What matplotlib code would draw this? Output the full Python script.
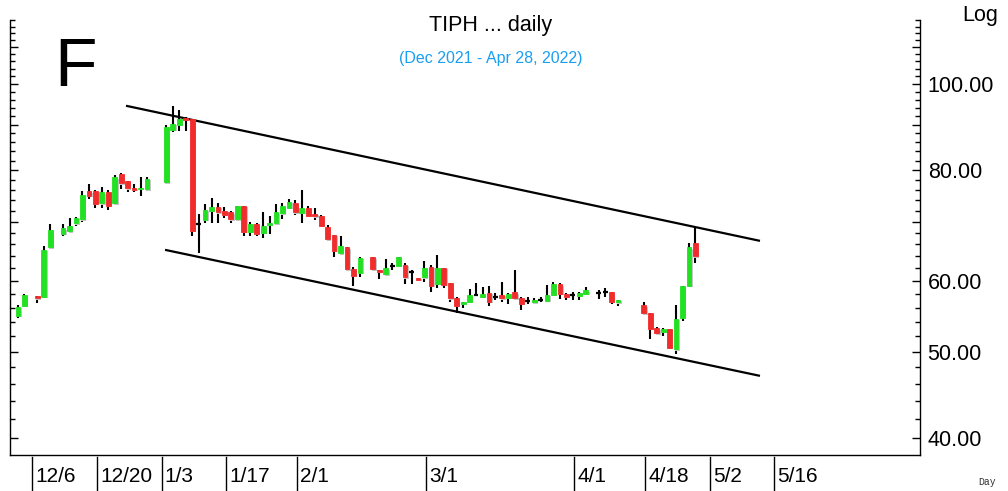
import numpy as np
import matplotlib
matplotlib.use("Agg")
import matplotlib.pyplot as plt
from matplotlib.patches import Rectangle
import matplotlib.patheffects as pe
from matplotlib.ticker import FixedLocator, FuncFormatter, NullFormatter
import matplotlib.transforms as mtransforms

plt.rcParams['font.family'] = ['Liberation Sans', 'DejaVu Sans']

# ---------------- data ----------------
dates = ['2021-12-01', '2021-12-02', '2021-12-06', '2021-12-07', '2021-12-08', '2021-12-10',
         '2021-12-13', '2021-12-14', '2021-12-15', '2021-12-16', '2021-12-17', '2021-12-20',
         '2021-12-21', '2021-12-22', '2021-12-23', '2021-12-24', '2021-12-27', '2021-12-28',
         '2021-12-29', '2022-01-03', '2022-01-04', '2022-01-05', '2022-01-06', '2022-01-07',
         '2022-01-10', '2022-01-11', '2022-01-12', '2022-01-13', '2022-01-14', '2022-01-17',
         '2022-01-18', '2022-01-19', '2022-01-20', '2022-01-21', '2022-01-24', '2022-01-25',
         '2022-01-26', '2022-01-27', '2022-01-28', '2022-01-31', '2022-02-01', '2022-02-02',
         '2022-02-03', '2022-02-04', '2022-02-07', '2022-02-08', '2022-02-09', '2022-02-10',
         '2022-02-11', '2022-02-14', '2022-02-16', '2022-02-17', '2022-02-18', '2022-02-21',
         '2022-02-22', '2022-02-23', '2022-02-24', '2022-02-25', '2022-02-28', '2022-03-01',
         '2022-03-02', '2022-03-03', '2022-03-04', '2022-03-07', '2022-03-08', '2022-03-09',
         '2022-03-10', '2022-03-11', '2022-03-14', '2022-03-15', '2022-03-16', '2022-03-17',
         '2022-03-18', '2022-03-21', '2022-03-22', '2022-03-23', '2022-03-24', '2022-03-25',
         '2022-03-28', '2022-03-29', '2022-03-30', '2022-03-31', '2022-04-01', '2022-04-04',
         '2022-04-06', '2022-04-07', '2022-04-08', '2022-04-11', '2022-04-15', '2022-04-18',
         '2022-04-19', '2022-04-20', '2022-04-21', '2022-04-22', '2022-04-25', '2022-04-26',
         '2022-04-27']

opens = [54.84, 56.27, 57.7, 57.6, 65.5, 67.8, 68.3, 69.7, 70.4, 75.7, 75.7, 73.4,
         75.5, 73.4, 79.2, 77.8, 76.4, 76.2, 76.1, 77.5, 88.8, 89.9, 91.6, 91.3,
         69.6, 70.3, 72.0, 72.7, 71.9, 71.7, 70.4, 72.9, 68.2, 69.5, 68.0, 69.4,
         69.7, 71.5, 72.5, 73.5, 71.6, 72.5, 71.4, 71.0, 69.1, 67.6, 64.5, 65.5,
         61.9, 61.3, 63.8, 61.8, 61.1, 62.4, 62.4, 62.6, 61.5, 60.5, 60.6, 62.3,
         59.6, 62.1, 59.7, 57.4, 56.6, 56.9, 57.9, 57.6, 58.2, 57.6, 57.9, 57.5,
         58.3, 57.5, 57.0, 56.8, 57.15, 57.0, 57.9, 59.5, 58.1, 57.9, 57.8, 58.1,
         58.2, 58.3, 58.3, 56.8, 56.35, 55.2, 53.1, 52.6, 53.0, 50.3, 54.6, 59.3,
         66.2]
highs = [56.42, 58.0, 57.7, 65.7, 69.5, 69.5, 70.6, 70.9, 75.7, 77.2, 76.0, 76.5,
         75.9, 79.0, 79.4, 77.8, 77.2, 78.5, 78.5, 89.8, 94.4, 93.5, 91.7, 91.3,
         71.4, 73.2, 74.5, 73.5, 72.7, 71.9, 72.9, 72.9, 70.0, 69.7, 71.7, 71.1,
         73.2, 73.5, 74.2, 74.1, 76.0, 72.8, 72.5, 71.3, 69.4, 67.6, 67.4, 65.5,
         62.3, 63.8, 63.8, 61.8, 63.5, 62.9, 63.8, 62.9, 61.8, 60.5, 63.2, 62.6,
         64.2, 62.1, 59.7, 57.6, 56.9, 58.8, 59.7, 59.1, 59.3, 58.2, 59.9, 58.2,
         61.7, 57.6, 57.6, 57.4, 57.55, 59.4, 59.9, 59.7, 58.2, 58.3, 58.3, 59.1,
         58.6, 58.9, 58.3, 57.15, 56.8, 55.3, 53.3, 53.1, 53.0, 56.4, 59.2, 66.3,
         69.0]
lows = [54.51, 56.2, 56.75, 57.55, 65.5, 67.4, 68.2, 69.2, 70.0, 74.2, 72.5, 72.5,
        72.2, 73.1, 76.1, 75.6, 75.5, 74.8, 76.0, 77.4, 88.4, 88.6, 88.6, 67.5,
        64.5, 69.7, 69.7, 69.8, 70.6, 69.7, 70.3, 67.4, 67.4, 67.4, 67.1, 67.8,
        69.4, 70.4, 72.3, 71.3, 69.8, 71.0, 70.3, 69.1, 66.5, 63.8, 64.4, 61.8,
        59.2, 60.7, 61.8, 60.3, 60.9, 61.7, 62.3, 59.6, 59.5, 60.0, 59.9, 58.4,
        59.0, 59.0, 56.9, 55.2, 55.9, 56.9, 57.7, 57.4, 56.3, 57.2, 56.9, 56.5,
        57.15, 55.7, 56.6, 56.6, 56.8, 56.9, 57.8, 57.3, 57.2, 57.15, 57.15, 57.9,
        57.3, 57.6, 56.6, 56.3, 55.0, 51.6, 52.2, 52.1, 50.4, 49.7, 54.1, 59.2,
        62.9]
closes = [56.17, 57.9, 57.4, 65.07, 68.5, 68.8, 69.3, 70.7, 75.0, 74.8, 73.3, 75.5,
          72.9, 78.5, 77.3, 76.3, 76.0, 76.45, 78.2, 89.4, 90.2, 91.3, 91.1, 68.4,
          69.6, 72.2, 72.7, 71.7, 71.3, 70.4, 72.8, 68.2, 69.5, 67.8, 69.3, 69.8,
          71.7, 72.8, 73.7, 71.7, 72.5, 71.1, 71.0, 69.2, 66.9, 64.9, 65.7, 61.9,
          60.8, 63.7, 61.9, 61.5, 62.0, 62.4, 63.8, 60.6, 61.5, 60.2, 62.1, 59.3,
          62.1, 59.4, 57.4, 56.3, 56.9, 57.9, 57.9, 58.0, 56.9, 57.6, 57.4, 58.1,
          57.4, 56.6, 57.0, 57.2, 57.15, 57.9, 59.5, 58.1, 57.6, 57.9, 58.2, 58.6,
          58.2, 58.3, 56.9, 57.15, 55.2, 53.0, 52.4, 53.0, 50.5, 54.4, 59.2, 65.5,
          64.0]

# trend channel endpoints (x in trading-slot units from 2021-12-06, price)
upper_x = [13.75, 112.0]
upper_y = [94.5, 66.6]
lower_x = [19.8, 112.0]
lower_y = [65.07, 46.95]

label_dates = ['2021-12-06', '2021-12-20', '2022-01-03', '2022-01-17', '2022-02-01',
               '2022-03-01', '2022-04-01', '2022-04-18', '2022-05-02', '2022-05-16']
label_texts = ['12/6', '12/20', '1/3', '1/17', '2/1', '3/1', '4/1', '4/18', '5/2', '5/16']

ytick_major = [40, 50, 60, 70, 80, 90, 100, 110]
ytick_labeled = [40, 50, 60, 80, 100]

# ---------------- drawing ----------------
BASE = '2021-12-06'
def slot(d):
    return float(np.busday_count(BASE, d)) if d >= BASE else -float(np.busday_count(d, BASE))

W, H = 1008, 491
fig = plt.figure(figsize=(W / 100, H / 100), dpi=100)
ax_left, ax_right, ax_top, ax_bot = 10, 920, 20, 455
ax = fig.add_axes([ax_left / W, (H - ax_bot) / H, (ax_right - ax_left) / W, (ax_bot - ax_top) / H])
ax.set_yscale('log')
ax.set_ylim(38.25, 118.0)
ax.set_xlim(-4.23, 136.8)

GREEN = '#22e022'
RED = '#f02c2c'
bw = 0.74
shadow_patch = [pe.SimplePatchShadow(offset=(1.0, -1.0), shadow_rgbFace='#c4c4c4', alpha=1.0), pe.Normal()]

# trend lines
ax.plot(upper_x, upper_y, color='black', lw=1.6, zorder=1, solid_capstyle='butt')
ax.plot(lower_x, lower_y, color='black', lw=1.6, zorder=1, solid_capstyle='butt')

for d, o, h, l, c in zip(dates, opens, highs, lows, closes):
    x = slot(d)
    ax.plot([x, x], [l, h], color='black', lw=1.5, zorder=2, solid_capstyle='butt')
    if abs(o - c) < 1e-9:
        ax.plot([x - bw / 2, x + bw / 2], [o, o], color='black', lw=1.6, zorder=3,
                solid_capstyle='butt')
    else:
        col = GREEN if c > o else RED
        lo, hi = min(o, c), max(o, c)
        r = Rectangle((x - bw / 2, lo), bw, hi - lo, facecolor=col, edgecolor=col, lw=0.6,
                      zorder=3, path_effects=shadow_patch)
        ax.add_patch(r)

# spines
ax.spines['top'].set_visible(False)
for s in ['left', 'right', 'bottom']:
    ax.spines[s].set_linewidth(1.0)
    ax.spines[s].set_color('black')

# y ticks
ax.yaxis.set_major_locator(FixedLocator(ytick_major))
minor = [v for v in range(38, 120, 2) if v % 10 != 0]
ax.yaxis.set_minor_locator(FixedLocator(minor))
ax.yaxis.set_major_formatter(FuncFormatter(lambda v, p: f'{v:.2f}' if int(round(v)) in ytick_labeled else ''))
ax.yaxis.set_minor_formatter(NullFormatter())
ax.tick_params(axis='y', which='both', left=True, right=True, labelleft=False, labelright=True,
               direction='in', width=1.0, pad=5.5, labelsize=15.5)
ax.tick_params(axis='y', which='major', length=6)
ax.tick_params(axis='y', which='minor', length=3.5)
ax.set_xticks([])

# x date separators and labels
trans = mtransforms.blended_transform_factory(ax.transData, ax.transAxes)
axh = ax_bot - ax_top
for d, t in zip(label_dates, label_texts):
    xs = slot(d) - 0.75
    ax.plot([xs, xs], [-2 / axh, -36 / axh], color='black', lw=1.0, transform=trans, clip_on=False)
    ax.text(xs + 0.45, -21 / axh, t, transform=trans, ha='left', va='center', fontsize=15)

# texts
fig.text(491 / W, 1 - 25 / H, 'TIPH ... daily', ha='center', va='center', fontsize=15.5)
fig.text(491 / W, 1 - 58 / H, '(Dec 2021 - Apr 28, 2022)', ha='center', va='center',
         fontsize=11.5, color='#1a9ff0')
fig.text(54 / W, 1 - 68 / H, 'F', ha='left', va='center', fontsize=50)
fig.text(962 / W, 1 - 16 / H, 'Log', ha='left', va='center', fontsize=15.5)
fig.text(978 / W, 1 - 482 / H, 'Day', ha='left', va='center', fontsize=7,
         family=['Liberation Mono', 'DejaVu Sans Mono'], color='#333333')

fig.savefig('out.png', dpi=100)
